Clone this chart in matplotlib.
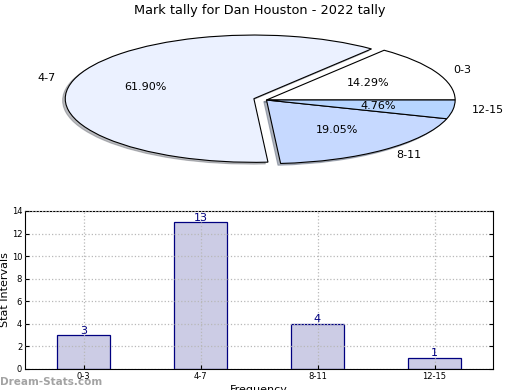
import matplotlib
matplotlib.use("Agg")
import matplotlib.pyplot as plt

categories = ["0-3", "4-7", "8-11", "12-15"]
counts = [3, 13, 4, 1]
pie_colors = ["#ffffff", "#ebf1ff", "#c6d9ff", "#b7d5ff"]
explode = [0, 0.07, 0, 0]
title = "Mark tally for Dan Houston - 2022 tally"

fig = plt.figure(figsize=(5.2, 3.9), dpi=100)

# Pie chart (squashed ellipse)
axp = fig.add_axes([59/520, 220/390, 415/520, 140/390])
wedges, texts, autotexts = axp.pie(
    counts, labels=categories, colors=pie_colors, explode=explode,
    startangle=0, shadow={"ox": -0.01, "oy": -0.02, "shade": 0.5},
    autopct="%.2f%%",
    wedgeprops=dict(edgecolor="black", linewidth=0.8),
    textprops=dict(fontsize=8, color="black"))
axp.set_aspect("auto")
axp.set_xlim(-1.1, 1.1)
axp.set_ylim(-1.1, 1.1)
for p in axp.patches:
    p.set_clip_on(False)
fig.text(0.5, 0.99, title, ha="center", va="top", fontsize=9.3)

# Bar chart
axb = fig.add_axes([25/520, 21/390, 468/520, 158/390])
x = range(len(categories))
axb.bar(x, counts, width=0.45, color="#ccccE5", edgecolor="#000080", linewidth=0.9, zorder=2)
axb.set_xlim(-0.5, 3.5)
axb.set_ylim(0, 14)
axb.set_yticks(range(0, 15, 2))
axb.set_xticks(list(x))
axb.set_xticklabels(categories)
axb.tick_params(axis="both", labelsize=6, direction="in", length=3, right=True, top=False, pad=2)
axb.grid(True, linestyle=":", color="#b8b8b8", linewidth=0.9, zorder=3)
axb.set_axisbelow(False)
axb.set_ylabel("Stat Intervals", fontsize=8)
axb.yaxis.set_label_coords(-0.032, 0.5)
axb.set_xlabel("Frequency", fontsize=8)
axb.xaxis.set_label_coords(0.5, -0.1)
for xi, v in zip(x, counts):
    axb.text(xi, v - 0.05, str(v), ha="center", va="bottom", fontsize=8, color="#000080", zorder=4)

fig.text(0.0, 0.008, "Dream-Stats.com", ha="left", va="bottom", fontsize=7.5,
         color="#999999", fontweight="bold", alpha=0.9)

fig.savefig("out.png", dpi=100)
